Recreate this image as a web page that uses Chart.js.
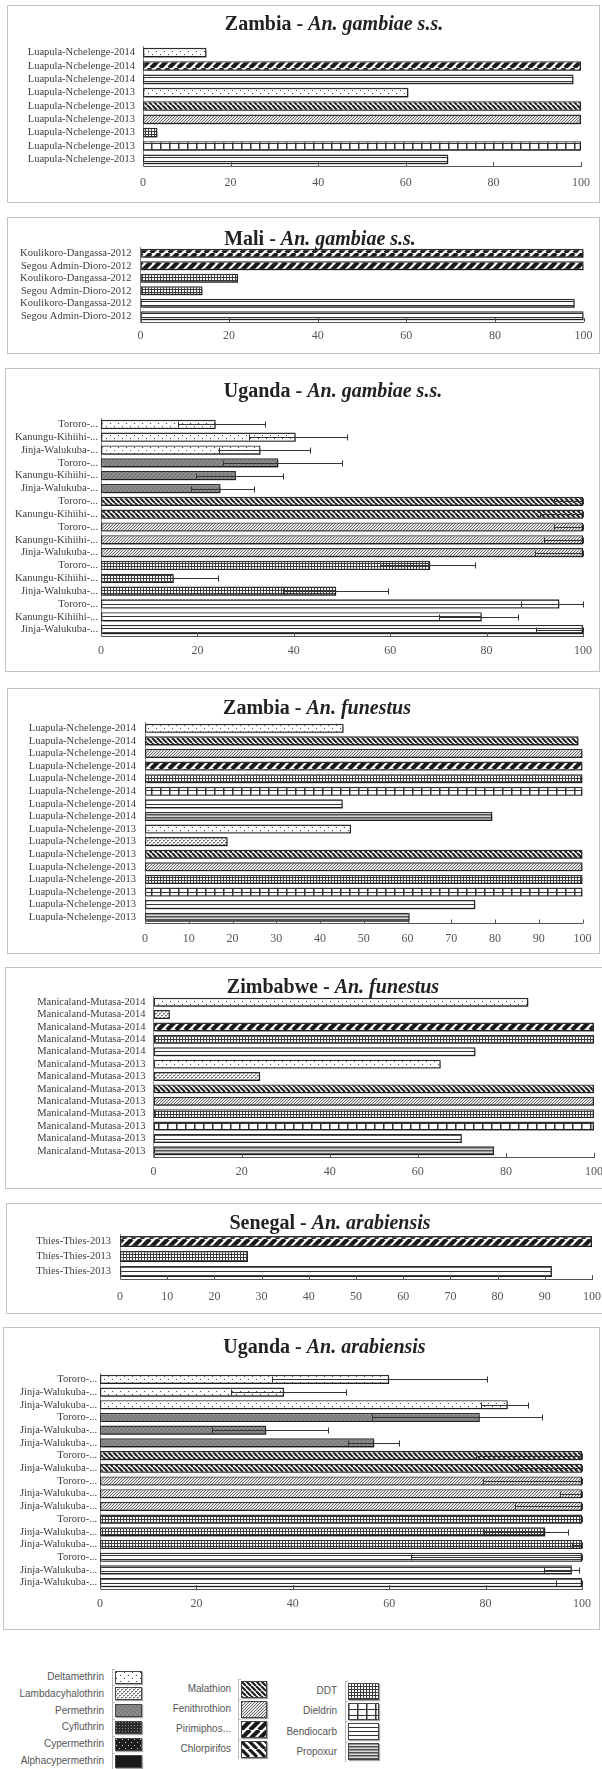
<!DOCTYPE html>
<html><head><meta charset="utf-8">
<script src="https://cdn.jsdelivr.net/npm/chart.js@4.4.1/dist/chart.umd.min.js"></script>
<style>
html,body{margin:0;padding:0;background:#fff;}
body{width:602px;height:1769px;position:relative;overflow:hidden;}
.box{position:absolute;border:1px solid #c4c4c4;box-sizing:border-box;}
canvas.c{position:absolute;}
.title{position:absolute;font:bold 20px 'Liberation Serif',serif;color:#222;white-space:nowrap;transform:translate(-50%,-50%);line-height:1;}
.lg{position:absolute;font:10px 'Liberation Sans',sans-serif;color:#555;white-space:nowrap;transform:translate(-100%,-50%);line-height:1;}
.sw{position:absolute;box-shadow:1px 1px 1px rgba(0,0,0,0.35);}
.br{position:absolute;background:#b8b8b8;}
</style></head><body>
<script>
// ---------------- DATA ----------------
const ZG_labels = ['Luapula-Nchelenge-2014','Luapula-Nchelenge-2014','Luapula-Nchelenge-2014','Luapula-Nchelenge-2013','Luapula-Nchelenge-2013','Luapula-Nchelenge-2013','Luapula-Nchelenge-2013','Luapula-Nchelenge-2013','Luapula-Nchelenge-2013'];
const ZG_types = ['Deltamethrin','Pirimiphos','Bendiocarb','Deltamethrin','Malathion','Fenithrothion','DDT','Dieldrin','Bendiocarb'];
const ZG_values = [14.5, 100, 98.3, 60.6, 100, 100, 3.3, 100, 69.7];

const ML_labels = ['Koulikoro-Dangassa-2012','Segou Admin-Dioro-2012','Koulikoro-Dangassa-2012','Segou Admin-Dioro-2012','Koulikoro-Dangassa-2012','Segou Admin-Dioro-2012'];
const ML_types = ['Pirimiphos','Pirimiphos','DDT','DDT','Bendiocarb','Bendiocarb'];
const ML_values = [100, 100, 22, 14, 98, 100];

const UG_labels = ['Tororo-...','Kanungu-Kihiihi-...','Jinja-Walukuba-...','Tororo-...','Kanungu-Kihiihi-...','Jinja-Walukuba-...','Tororo-...','Kanungu-Kihiihi-...','Tororo-...','Kanungu-Kihiihi-...','Jinja-Walukuba-...','Tororo-...','Kanungu-Kihiihi-...','Jinja-Walukuba-...','Tororo-...','Kanungu-Kihiihi-...','Jinja-Walukuba-...'];
const UG_types = ['Deltamethrin','Deltamethrin','Deltamethrin','Permethrin','Permethrin','Permethrin','Malathion','Malathion','Fenithrothion','Fenithrothion','Fenithrothion','DDT','DDT','DDT','Bendiocarb','Bendiocarb','Bendiocarb'];
const UG_values = [23.8, 40.4, 33.1, 36.8, 28.0, 24.8, 100, 100, 100, 100, 100, 68.3, 15.1, 48.8, 95.1, 79.0, 100];
const UG_errLow = [15.9, 30.8, 24.5, 25.4, 19.8, 18.7, 94, 91, 94, 92, 90, 57.8, 9.3, 37.8, 87.2, 70.1, 90.2];
const UG_errHigh = [34.0, 51.0, 43.4, 49.9, 37.8, 31.8, 100, 100, 100, 100, 100, 77.5, 24.2, 59.5, 100, 86.6, 100];

const ZF_labels = ['Luapula-Nchelenge-2014','Luapula-Nchelenge-2014','Luapula-Nchelenge-2014','Luapula-Nchelenge-2014','Luapula-Nchelenge-2014','Luapula-Nchelenge-2014','Luapula-Nchelenge-2014','Luapula-Nchelenge-2014','Luapula-Nchelenge-2013','Luapula-Nchelenge-2013','Luapula-Nchelenge-2013','Luapula-Nchelenge-2013','Luapula-Nchelenge-2013','Luapula-Nchelenge-2013','Luapula-Nchelenge-2013','Luapula-Nchelenge-2013'];
const ZF_types = ['Deltamethrin','Malathion','Fenithrothion','Pirimiphos','DDT','Dieldrin','Bendiocarb','Propoxur','Deltamethrin','Lambdacyhalothrin','Malathion','Fenithrothion','DDT','Dieldrin','Bendiocarb','Propoxur'];
const ZF_values = [45.4, 99.1, 100, 100, 100, 100, 45.2, 79.4, 47.1, 18.9, 100, 100, 100, 100, 75.5, 60.5];

const ZW_labels = ['Manicaland-Mutasa-2014','Manicaland-Mutasa-2014','Manicaland-Mutasa-2014','Manicaland-Mutasa-2014','Manicaland-Mutasa-2014','Manicaland-Mutasa-2013','Manicaland-Mutasa-2013','Manicaland-Mutasa-2013','Manicaland-Mutasa-2013','Manicaland-Mutasa-2013','Manicaland-Mutasa-2013','Manicaland-Mutasa-2013','Manicaland-Mutasa-2013'];
const ZW_types = ['Deltamethrin','Lambdacyhalothrin','Pirimiphos','DDT','Bendiocarb','Deltamethrin','Lambdacyhalothrin','Malathion','Fenithrothion','DDT','Dieldrin','Bendiocarb','Propoxur'];
const ZW_values = [85.1, 3.7, 100, 100, 73.1, 65.2, 24.2, 100, 100, 100, 100, 70.0, 77.3];

const SN_labels = ['Thies-Thies-2013','Thies-Thies-2013','Thies-Thies-2013'];
const SN_types = ['Pirimiphos','DDT','Bendiocarb'];
const SN_values = [100, 27.1, 91.5];

const UA_labels = ['Tororo-...','Jinja-Walukuba-...','Jinja-Walukuba-...','Tororo-...','Jinja-Walukuba-...','Jinja-Walukuba-...','Tororo-...','Jinja-Walukuba-...','Tororo-...','Jinja-Walukuba-...','Jinja-Walukuba-...','Tororo-...','Jinja-Walukuba-...','Jinja-Walukuba-...','Tororo-...','Jinja-Walukuba-...','Jinja-Walukuba-...'];
const UA_types = ['Deltamethrin','Deltamethrin','Deltamethrin','Permethrin','Permethrin','Permethrin','Malathion','Malathion','Fenithrothion','Fenithrothion','Fenithrothion','DDT','DDT','DDT','Bendiocarb','Bendiocarb','Bendiocarb'];
const UA_values = [60.0, 38.2, 84.6, 78.8, 34.5, 56.9, 100, 100, 100, 100, 100, 100, 92.4, 100, 100, 97.9, 100];
const UA_errLow = [35.7, 27.1, 79.1, 56.5, 23.3, 51.4, 78.0, 86.8, 79.5, 95.5, 86.0, 79.5, 79.6, 97.9, 64.5, 92.2, 94.7];
const UA_errHigh = [80.3, 51.0, 88.9, 91.6, 47.4, 62.1, 100, 100, 100, 100, 100, 100, 97.1, 100, 100, 99.3, 100];

const LEGEND_col1 = ['Deltamethrin','Lambdacyhalothrin','Permethrin','Cyfluthrin','Cypermethrin','Alphacypermethrin'];
const LEGEND_col2 = ['Malathion','Fenithrothion','Pirimiphos','Chlorpirifos'];
const LEGEND_col3 = ['DDT','Dieldrin','Bendiocarb','Propoxur'];
const LEGEND_text = {Pirimiphos:'Pirimiphos...'};

// ---------------- PATTERNS ----------------
function tile(w,h,fn){const c=document.createElement('canvas');c.width=w;c.height=h;const g=c.getContext('2d');fn(g,w,h);return c;}
function diag(p,lw,fg,bg,dir){return tile(p,p,(g)=>{g.fillStyle=bg;g.fillRect(0,0,p,p);g.strokeStyle=fg;g.lineWidth=lw;g.beginPath();for(const o of [-p,0,p]){if(dir==='\\'){g.moveTo(o,0);g.lineTo(o+p,p);}else{g.moveTo(o,p);g.lineTo(o+p,0);}}g.stroke();});}
const TILES = {
  Deltamethrin: tile(8,6,g=>{g.fillStyle='#fff';g.fillRect(0,0,8,6);g.fillStyle='#444';g.fillRect(1,1,1,1);g.fillRect(5,4,1,1);}),
  Lambdacyhalothrin: tile(4,4,g=>{g.fillStyle='#fff';g.fillRect(0,0,4,4);g.fillStyle='#707070';g.fillRect(0,0,2,1);g.fillRect(2,2,2,1);g.fillStyle='#a8a8a8';g.fillRect(0,1,1,1);g.fillRect(2,3,1,1);}),
  Permethrin: tile(4,4,g=>{g.fillStyle='#848484';g.fillRect(0,0,4,4);g.fillStyle='#6c6c6c';g.fillRect(0,0,1,1);g.fillRect(2,2,1,1);g.fillStyle='#9c9c9c';g.fillRect(2,0,1,1);g.fillRect(0,2,1,1);}),
  Cyfluthrin: tile(3,3,g=>{g.fillStyle='#2c2c2c';g.fillRect(0,0,3,3);g.fillStyle='#8a8a8a';g.fillRect(1,1,1,1);}),
  Cypermethrin: tile(6,6,g=>{g.fillStyle='#1e1e1e';g.fillRect(0,0,6,6);g.fillStyle='#cccccc';g.fillRect(1,1,1,1);g.fillRect(4,4,1,1);}),
  Alphacypermethrin: tile(2,2,g=>{g.fillStyle='#1a1a1a';g.fillRect(0,0,2,2);}),
  Malathion: diag(5,2.2,'#222','#fff','\\'),
  Fenithrothion: diag(3,1,'#6a6a6a','#e8e8e8','/'),
  Pirimiphos: diag(9,4.2,'#1a1a1a','#fff','/'),
  Chlorpirifos: diag(8,3.2,'#1a1a1a','#fff','\\'),
  DDT: tile(3,3,g=>{g.fillStyle='#fff';g.fillRect(0,0,3,3);g.fillStyle='#3a3a3a';g.fillRect(0,0,3,1);g.fillRect(0,0,1,3);}),
  Dieldrin: tile(9,6,g=>{g.fillStyle='#fff';g.fillRect(0,0,9,6);g.fillStyle='#333';g.fillRect(0,0,9,1);g.fillRect(0,0,1.5,6);}),
  Bendiocarb: tile(2,4,g=>{g.fillStyle='#fff';g.fillRect(0,0,2,4);g.fillStyle='#333';g.fillRect(0,0,2,1);}),
  Propoxur: tile(2,3,g=>{g.fillStyle='#505050';g.fillRect(0,0,2,1);g.fillStyle='#959595';g.fillRect(0,1,2,1);g.fillStyle='#d8d8d8';g.fillRect(0,2,2,1);})
};
function patternsFor(ctx){const o={};for(const k in TILES){o[k]=ctx.createPattern(TILES[k],'repeat');}return o;}

// ---------------- PLUGINS ----------------
const shadowPlugin = {id:'shadowP',
  beforeDatasetsDraw(c){const x=c.ctx;x.save();x.shadowColor='rgba(0,0,0,0.4)';x.shadowOffsetX=1.5;x.shadowOffsetY=2;x.shadowBlur=1.5;},
  afterDatasetsDraw(c){c.ctx.restore();}};
function errPlugin(low,high){return {id:'errP',afterDatasetsDraw(c){
  if(!low) return; const meta=c.getDatasetMeta(0), xs=c.scales.x, ctx=c.ctx;
  ctx.save();ctx.strokeStyle='#333';ctx.lineWidth=1;
  meta.data.forEach((b,i)=>{ if(low[i]==null) return; const y=Math.round(b.y)+0.5;
    const a=Math.round(xs.getPixelForValue(low[i]))+0.5, e=Math.round(xs.getPixelForValue(high[i]))+0.5;
    ctx.beginPath();ctx.moveTo(a,y);ctx.lineTo(e,y);ctx.moveTo(a,y-3);ctx.lineTo(a,y+3);ctx.moveTo(e,y-3);ctx.lineTo(e,y+3);ctx.stroke();});
  ctx.restore();}};}
const tickPlugin = {id:'tickP',afterDraw(c){const xs=c.scales.x,ctx=c.ctx;ctx.save();ctx.strokeStyle='#555';ctx.lineWidth=1;
  xs.ticks.forEach((t,i)=>{const x=Math.round(xs.getPixelForTick(i))+0.5;ctx.beginPath();ctx.moveTo(x,xs.top);ctx.lineTo(x,xs.top-4);ctx.stroke();});ctx.restore();}};

// ---------------- PANELS ----------------
function panel(cfg){
  const [bl,bt,br,bb]=cfg.box, [px0,px1,py0,py1]=cfg.plot;
  const W=br-bl, H=bb-bt;
  const d=document.createElement('div');d.className='box';
  Object.assign(d.style,{left:bl+'px',top:bt+'px',width:W+'px',height:H+'px'});document.body.appendChild(d);
  const cv=document.createElement('canvas');cv.className='c';cv.width=W;cv.height=H;
  Object.assign(cv.style,{left:bl+'px',top:bt+'px',width:W+'px',height:H+'px'});document.body.appendChild(cv);
  const pats=patternsFor(cv.getContext('2d'));
  new Chart(cv,{type:'bar',
    data:{labels:cfg.labels,datasets:[{data:cfg.values,backgroundColor:cfg.types.map(t=>pats[t]),borderColor:'#2e2e2e',borderWidth:1.4,borderSkipped:false,barPercentage:0.72,categoryPercentage:1,clip:8}]},
    options:{indexAxis:'y',responsive:false,animation:false,devicePixelRatio:1,
      layout:{padding:{left:0,top:py0-bt,right:W-(px1-bl),bottom:0}},
      plugins:{legend:{display:false},tooltip:{enabled:false},title:{display:false}},
      scales:{
        x:{min:0,max:100,ticks:{stepSize:cfg.step,font:{family:'Liberation Serif',size:12},color:'#555',padding:cfg.tickY-py1-7,maxRotation:0},
           grid:{display:false,drawTicks:false},border:{display:true,color:'#555',width:1},
           afterFit(s){s.height=bb-py1;}},
        y:{ticks:{autoSkip:false,font:{family:'Liberation Serif',size:10.5},color:'#3c3c3c',padding:cfg.ylPad},
           grid:{display:false,drawTicks:false},border:{display:true,color:'#888',width:1},
           afterFit(s){s.width=px0-bl;}}
      }},
    plugins:[shadowPlugin,errPlugin(cfg.low,cfg.high),tickPlugin]});
  const t=document.createElement('div');t.className='title';t.innerHTML=cfg.title;
  t.style.left=cfg.tx+'px';t.style.top=cfg.ty+'px';document.body.appendChild(t);
}

panel({box:[7,5,600,203],plot:[143,584,46,166],labels:ZG_labels,values:ZG_values,types:ZG_types,step:20,tickY:183,ylPad:8,
  title:'Zambia - <i>An. gambiae s.s.</i>',tx:334,ty:23});
panel({box:[7,217,600,354],plot:[140.5,583.6,247,322],labels:ML_labels,values:ML_values,types:ML_types,step:20,tickY:336,ylPad:9,
  title:'Mali - <i>An. gambiae s.s.</i>',tx:320,ty:238});
panel({box:[5,368,600,672],plot:[101,583,418,636],labels:UG_labels,values:UG_values,types:UG_types,step:20,tickY:651,ylPad:3,
  low:UG_errLow,high:UG_errHigh,title:'Uganda - <i>An. gambiae s.s.</i>',tx:333,ty:390});
panel({box:[7,688,600,954],plot:[145,583.6,722,923.5],labels:ZF_labels,values:ZF_values,types:ZF_types,step:10,tickY:939,ylPad:9,
  title:'Zambia - <i>An. funestus</i>',tx:317,ty:707});
panel({box:[5,967,612,1189],plot:[153.6,594,996,1157],labels:ZW_labels,values:ZW_values,types:ZW_types,step:20,tickY:1172,ylPad:8,
  title:'Zimbabwe - <i>An. funestus</i>',tx:333,ty:986});
panel({box:[6,1203,612,1314],plot:[120,593,1234,1279],labels:SN_labels,values:SN_values,types:SN_types,step:10,tickY:1297,ylPad:9,
  title:'Senegal - <i>An. arabiensis</i>',tx:330,ty:1222});
panel({box:[3,1327,600,1630],plot:[100,582,1373,1589],labels:UA_labels,values:UA_values,types:UA_types,step:20,tickY:1604,ylPad:3,
  low:UA_errLow,high:UA_errHigh,title:'Uganda - <i>An. arabiensis</i>',tx:324.5,ty:1346});

// ---------------- LEGEND ----------------
function swatch(name,x,y,w,h){
  const c=document.createElement('canvas');c.width=w;c.height=h;c.className='sw';
  Object.assign(c.style,{left:x+'px',top:y+'px',width:w+'px',height:h+'px'});
  const g=c.getContext('2d');g.fillStyle=g.createPattern(TILES[name],'repeat');g.fillRect(0,0,w,h);
  g.strokeStyle='#444';g.lineWidth=1;g.strokeRect(0.5,0.5,w-1,h-1);document.body.appendChild(c);
}
function lgText(s,xr,yc){const d=document.createElement('div');d.className='lg';d.textContent=s;d.style.left=xr+'px';d.style.top=yc+'px';document.body.appendChild(d);}
function bracket(x,y0,y1,marks){const v=document.createElement('div');v.className='br';Object.assign(v.style,{left:x+'px',top:y0+'px',width:'1px',height:(y1-y0)+'px'});document.body.appendChild(v);
  marks.forEach(m=>{const h=document.createElement('div');h.className='br';Object.assign(h.style,{left:x+'px',top:m+'px',width:'3px',height:'1px'});document.body.appendChild(h);});}
function legendCol(names,xr,sx,sw,sh,y0,dy){
  const marks=[];
  names.forEach((n,i)=>{const yc=y0+i*dy;lgText(LEGEND_text[n]||n,xr,yc);swatch(n,sx,Math.round(yc-sh/2),sw,sh);marks.push(Math.round(yc-dy/2));});
  bracket(sx-3,Math.round(y0-dy/2),Math.round(y0+(names.length-0.5)*dy),marks);
}
legendCol(LEGEND_col1,104,115,27,13,1677,16.8);
legendCol(LEGEND_col2,231,241,26,17,1689,20);
legendCol(LEGEND_col3,337,348,31,17,1691,20.3);
</script></body></html>
